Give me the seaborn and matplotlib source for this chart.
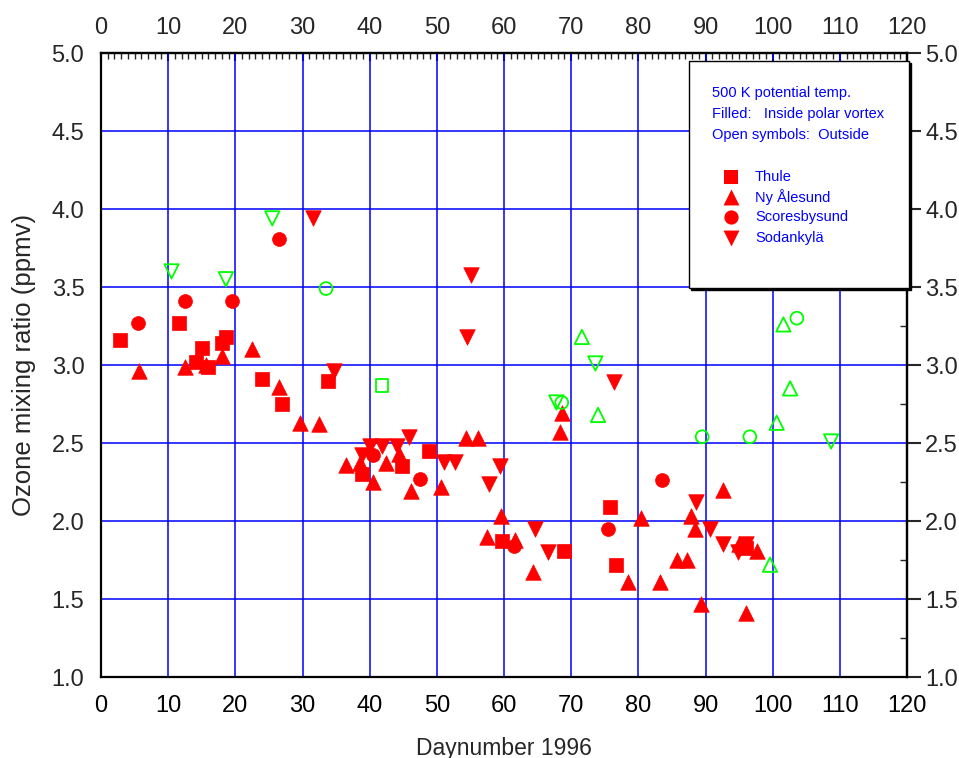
import numpy as np
import pandas as pd
import seaborn as sns
import matplotlib
matplotlib.use("Agg")
import matplotlib.pyplot as plt
from matplotlib.ticker import MultipleLocator, FixedLocator, FormatStrFormatter
from matplotlib.patches import Rectangle

# ---- ozone soundings at 500 K potential temperature, 1996 ----
# Thule
thule_in_day = [2.8, 11.6, 15.1, 14.1, 16.0, 18.0, 18.6, 24.0, 26.9, 33.8,
                38.9, 44.8, 48.8, 59.7, 68.9, 75.8, 76.7, 96.0]
thule_in_o3 = [3.16, 3.27, 3.11, 3.02, 2.99, 3.14, 3.18, 2.91, 2.75, 2.90,
               2.30, 2.35, 2.45, 1.87, 1.81, 2.09, 1.72, 1.83]
thule_out_day = [41.8]
thule_out_o3 = [2.87]

# Ny Ålesund
ny_in_day = [5.6, 12.5, 15.6, 18.0, 22.5, 26.5, 29.7, 32.5, 36.5, 38.5,
             40.5, 42.4, 44.3, 46.1, 50.6, 54.3, 56.2, 57.5, 59.6, 61.6,
             64.3, 68.4, 68.7, 78.4, 80.4, 83.2, 85.7, 87.2, 87.8, 88.4,
             89.4, 92.6, 95.0, 96.1, 97.6]
ny_in_o3 = [2.96, 2.99, 3.00, 3.06, 3.10, 2.86, 2.63, 2.62, 2.36, 2.37,
            2.25, 2.37, 2.43, 2.19, 2.22, 2.53, 2.53, 1.90, 2.03, 1.88,
            1.67, 2.57, 2.69, 1.61, 2.02, 1.61, 1.75, 1.75, 2.03, 1.95,
            1.47, 2.20, 1.85, 1.41, 1.81]
ny_out_day = [71.6, 74.0, 99.6, 100.6, 101.6, 102.6]
ny_out_o3 = [3.18, 2.68, 1.72, 2.63, 3.26, 2.85]

# Scoresbysund
sc_in_day = [5.5, 12.5, 19.5, 26.5, 40.5, 47.5, 61.5, 75.5, 83.5]
sc_in_o3 = [3.27, 3.41, 3.41, 3.81, 2.42, 2.27, 1.84, 1.95, 2.26]
sc_out_day = [33.5, 68.6, 89.5, 96.6, 103.6]
sc_out_o3 = [3.49, 2.76, 2.54, 2.54, 3.30]

# Sodankylä
so_in_day = [31.6, 34.7, 38.8, 40.1, 41.8, 44.0, 45.9, 51.0, 52.7, 54.5,
             55.1, 57.8, 59.4, 64.6, 66.6, 76.4, 88.6, 90.6, 92.6, 94.9, 96.1]
so_in_o3 = [3.94, 2.96, 2.42, 2.48, 2.48, 2.48, 2.54, 2.38, 2.38, 3.18,
            3.58, 2.24, 2.35, 1.95, 1.80, 2.89, 2.12, 1.95, 1.85, 1.80, 1.85]
so_out_day = [10.5, 18.6, 25.5, 67.8, 73.6, 108.7]
so_out_o3 = [3.60, 3.55, 3.94, 2.76, 3.01, 2.51]

stations = ["Thule", "Ny Ålesund", "Scoresbysund", "Sodankylä"]
station_markers = {"Thule": "s", "Ny Ålesund": "^",
                   "Scoresbysund": "o", "Sodankylä": "v"}
station_sizes = {"Thule": 95, "Ny Ålesund": 125,
                 "Scoresbysund": 100, "Sodankylä": 125}

# axis ranges and tick positions
x_min, x_max, x_step = 0, 120, 10
y_min, y_max, y_step = 1.0, 5.0, 0.5
x_major = np.arange(x_min, x_max + 0.1, x_step)
x_minor = np.arange(x_min, x_max + 0.1, 1)
y_major = np.arange(y_min, y_max + 0.01, y_step)
y_minor = np.arange(y_min, y_max + 0.01, 0.25)

groups = [
    ("Thule", "inside", thule_in_day, thule_in_o3),
    ("Thule", "outside", thule_out_day, thule_out_o3),
    ("Ny Ålesund", "inside", ny_in_day, ny_in_o3),
    ("Ny Ålesund", "outside", ny_out_day, ny_out_o3),
    ("Scoresbysund", "inside", sc_in_day, sc_in_o3),
    ("Scoresbysund", "outside", sc_out_day, sc_out_o3),
    ("Sodankylä", "inside", so_in_day, so_in_o3),
    ("Sodankylä", "outside", so_out_day, so_out_o3),
]
frames = [pd.DataFrame({"station": st, "vortex": vx, "day": d, "ozone": o})
          for st, vx, d, o in groups]
df = pd.concat(frames, ignore_index=True)

RED = "#ff0000"
GREEN = "#00ff00"
BLUE = "#0000ff"

sns.set_style("white")
plt.rcParams["font.family"] = ["Liberation Sans", "DejaVu Sans"]
plt.rcParams["axes.unicode_minus"] = False

W, H = 959, 758
fig = plt.figure(figsize=(W / 100, H / 100), dpi=100)
ax = fig.add_axes([101 / W, 1 - 677 / H, 806 / W, 624 / H])

for st in stations:
    for vx in ["inside", "outside"]:
        sub = df[(df.station == st) & (df.vortex == vx)]
        if sub.empty:
            continue
        if vx == "inside":
            sns.scatterplot(data=sub, x="day", y="ozone", ax=ax,
                            marker=station_markers[st], s=station_sizes[st],
                            color=RED, edgecolor=RED, linewidth=0.5,
                            zorder=3, legend=False)
        else:
            sns.scatterplot(data=sub, x="day", y="ozone", ax=ax,
                            marker=station_markers[st],
                            s=station_sizes[st] * 0.85,
                            color=GREEN, facecolor="none", edgecolor=GREEN,
                            linewidth=1.3, zorder=3, legend=False)

ax.set_xlim(x_min, x_max)
ax.set_ylim(y_min, y_max)
ax.xaxis.set_major_locator(FixedLocator(x_major))
ax.xaxis.set_minor_locator(FixedLocator(x_minor))
ax.yaxis.set_major_locator(FixedLocator(y_major))
ax.yaxis.set_minor_locator(FixedLocator(y_minor))
ax.xaxis.set_major_formatter(FormatStrFormatter("%d"))
ax.yaxis.set_major_formatter(FormatStrFormatter("%.1f"))
ax.grid(which="major", color=BLUE, linewidth=1.1, zorder=1)
ax.set_axisbelow(True)

for sp in ax.spines.values():
    sp.set_linewidth(1.6)
    sp.set_color("black")

ax.tick_params(axis="x", which="major", direction="out", length=8, width=1.5,
               labelsize=17, pad=5, colors="black")
ax.tick_params(axis="x", which="minor", direction="in", length=4, width=1.0)
ax.tick_params(axis="y", which="major", direction="out", length=8, width=1.5,
               labelsize=17, pad=4)
ax.tick_params(axis="y", which="minor", direction="out", length=4, width=1.0)

ax.set_xlabel("Daynumber 1996", fontsize=16.5, labelpad=14)
ax.set_ylabel("Ozone mixing ratio (ppmv)", fontsize=18.5, labelpad=11)

# duplicate scales on the top and right edges
top = ax.secondary_xaxis("top")
top.xaxis.set_major_locator(FixedLocator(x_major))
top.xaxis.set_minor_locator(FixedLocator(x_minor))
top.xaxis.set_major_formatter(FormatStrFormatter("%d"))
top.tick_params(which="major", direction="in", length=6, width=1.5,
                labelsize=17, pad=10)
top.tick_params(which="minor", direction="in", length=4, width=1.0)
top.spines["top"].set_linewidth(1.6)

right = ax.secondary_yaxis("right")
right.yaxis.set_major_locator(FixedLocator(y_major))
right.yaxis.set_minor_locator(FixedLocator(y_minor))
right.yaxis.set_major_formatter(FormatStrFormatter("%.1f"))
right.tick_params(which="major", direction="out", length=10, width=1.5,
                  labelsize=17, pad=3)
right.tick_params(which="minor", direction="in", length=5, width=1.0)
right.spines["right"].set_linewidth(1.6)

# ---- key box ----
bx0, by0, bx1, by1 = 689, 61, 911, 290
kax = fig.add_axes([bx0 / W, 1 - by1 / H, (bx1 - bx0) / W, (by1 - by0) / H])
kax.set_xlim(0, bx1 - bx0)
kax.set_ylim(by1 - by0, 0)
kax.axis("off")
kax.add_patch(Rectangle((2, 2), bx1 - bx0 - 2, by1 - by0 - 2,
                        facecolor="black", edgecolor="black", clip_on=False))
kax.add_patch(Rectangle((0, 0), bx1 - bx0 - 2, by1 - by0 - 2,
                        facecolor="white", edgecolor="black", linewidth=1.0,
                        clip_on=False))
kfont = dict(color=BLUE, fontsize=10.5, va="center", ha="left")
kax.text(23, 32, "500 K potential temp.", **kfont)
kax.text(23, 53, "Filled:   Inside polar vortex", **kfont)
kax.text(23, 74, "Open symbols:  Outside", **kfont)
rows_y = [116, 136, 156, 177]
for st, yy in zip(stations, rows_y):
    kax.scatter([42], [yy], marker=station_markers[st],
                s=station_sizes[st] * 1.05, color=RED, linewidth=0,
                clip_on=False)
    kax.text(66, yy, st, **kfont)

fig.savefig("out.png", dpi=100)
